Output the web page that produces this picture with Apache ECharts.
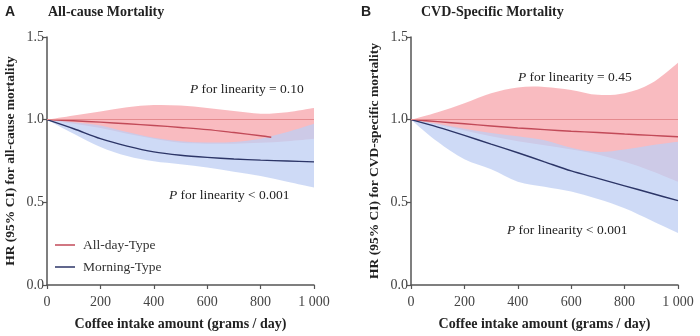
<!DOCTYPE html>
<html>
<head>
<meta charset="utf-8">
<script src="https://cdn.jsdelivr.net/npm/echarts@6/dist/echarts.min.js"></script>
<style>
  html, body { margin: 0; padding: 0; background: #fff; }
  #chart { width: 700px; height: 336px; }
</style>
</head>
<body>
<div id="chart"></div>
<script>
// Coffee intake (grams/day) sample points
const intake = [0, 100, 200, 300, 400, 500, 600, 700, 800, 900, 1000];
const intakeAllDayA = [0, 100, 200, 300, 400, 500, 600, 700, 800, 840];

// Panel A: all-cause mortality
const allDayHrA    = [1.0, 0.993, 0.985, 0.975, 0.965, 0.953, 0.94, 0.922, 0.903, 0.894];
const allDayUpperA = [1.0, 1.025, 1.05, 1.075, 1.088, 1.085, 1.07, 1.052, 1.036, 1.045, 1.07];
const allDayLowerA = [1.0, 0.975, 0.95, 0.915, 0.885, 0.86, 0.855, 0.855, 0.86, 0.87, 0.885];
const morningHrA    = [1.0, 0.945, 0.885, 0.84, 0.805, 0.785, 0.772, 0.762, 0.755, 0.75, 0.745];
const morningUpperA = [1.0, 0.985, 0.965, 0.925, 0.89, 0.87, 0.862, 0.865, 0.885, 0.925, 0.975];
const morningLowerA = [1.0, 0.915, 0.835, 0.78, 0.748, 0.73, 0.71, 0.685, 0.66, 0.625, 0.59];

// Panel B: CVD-specific mortality
const allDayHrB    = [1.0, 0.988, 0.975, 0.962, 0.95, 0.94, 0.93, 0.922, 0.913, 0.905, 0.897];
const allDayUpperB = [1.0, 1.045, 1.10, 1.16, 1.195, 1.198, 1.18, 1.15, 1.16, 1.22, 1.345];
const allDayLowerB = [1.0, 0.97, 0.935, 0.90, 0.87, 0.845, 0.82, 0.79, 0.745, 0.69, 0.625];
const morningHrB    = [1.0, 0.955, 0.905, 0.852, 0.80, 0.745, 0.69, 0.645, 0.60, 0.555, 0.51];
const morningUpperB = [1.0, 0.975, 0.945, 0.92, 0.90, 0.875, 0.83, 0.805, 0.82, 0.845, 0.866];
const morningLowerB = [1.0, 0.866, 0.76, 0.70, 0.625, 0.595, 0.565, 0.52, 0.464, 0.39, 0.314];

// Axis ticks
const xTickLabels = ['0', '200', '400', '600', '800', '1 000'];
const yTickLabels = ['0.0', '0.5', '1.0', '1.5'];

const panelTitles = ['All-cause Mortality', 'CVD-Specific Mortality'];
const panelLetters = ['A', 'B'];
const yAxisNames = ['HR (95% CI) for all-cause mortality', 'HR (95% CI) for CVD-specific mortality'];
const xAxisName = 'Coffee intake amount (grams / day)';
const seriesNames = ['All-day-Type', 'Morning-Type'];

const SERIF = 'Liberation Serif, Times New Roman, serif';
const SANS = 'Liberation Sans, Arial, sans-serif';
const RED_LINE = '#c24a58';
const BLUE_LINE = '#2c3567';
const RED_FILL = 'rgba(244,125,135,0.52)';
const BLUE_FILL = 'rgba(190,207,243,0.76)';

const pairs = (xs, ys) => ys.map((y, i) => [xs[i], y]);

// Catmull-Rom spline through pixel points, as SVG path commands (no leading M)
function splineSegs(pts) {
  let d = '';
  for (let i = 0; i < pts.length - 1; i++) {
    const p0 = pts[Math.max(i - 1, 0)], p1 = pts[i], p2 = pts[i + 1], p3 = pts[Math.min(i + 2, pts.length - 1)];
    const t = 1 / 6;
    const c1 = [p1[0] + (p2[0] - p0[0]) * t, p1[1] + (p2[1] - p0[1]) * t];
    const c2 = [p2[0] - (p3[0] - p1[0]) * t, p2[1] - (p3[1] - p1[1]) * t];
    d += ' C' + c1[0] + ',' + c1[1] + ' ' + c2[0] + ',' + c2[1] + ' ' + p2[0] + ',' + p2[1];
  }
  return d;
}

// confidence band as a custom series: upper edge forward, lower edge back
function band(idx, xs, lower, upper, fill) {
  return {
    type: 'custom', xAxisIndex: idx, yAxisIndex: idx, silent: true, z: 1,
    data: xs.map((x, i) => [x, lower[i], upper[i]]),
    encode: { x: 0, y: [1, 2] },
    renderItem: function (params, api) {
      if (params.dataIndex !== 0) return null;
      const up = xs.map((x, i) => api.coord([x, upper[i]]));
      const lo = xs.map((x, i) => api.coord([x, lower[i]])).reverse();
      const d = 'M' + up[0][0] + ',' + up[0][1] + splineSegs(up) +
        ' L' + lo[0][0] + ',' + lo[0][1] + splineSegs(lo) + ' Z';
      return { type: 'path', shape: { pathData: d }, style: { fill, stroke: null } };
    }
  };
}

function hrLine(name, idx, xs, ys, color, withRef) {
  const s = {
    type: 'line', name, xAxisIndex: idx, yAxisIndex: idx,
    data: pairs(xs, ys), smooth: 0.3, symbol: 'none',
    lineStyle: { color, width: 1.4 }, itemStyle: { color }, z: 4
  };
  if (withRef) {
    s.markLine = {
      silent: true, symbol: 'none', label: { show: false },
      lineStyle: { color: '#e58a8e', width: 1, type: 'solid' },
      data: [{ yAxis: 1 }]
    };
  }
  return s;
}

const grids = [
  { left: 47, right: 386, top: 37, bottom: 49 },
  { left: 411, right: 22, top: 37, bottom: 49 }
];

const xAxes = grids.map((g, i) => ({
  type: 'value', gridIndex: i, min: 0, max: 1000, interval: 200,
  name: xAxisName, nameLocation: 'middle', nameGap: 32,
  nameTextStyle: { fontFamily: SERIF, fontWeight: 'bold', fontSize: 14, color: '#222' },
  axisLine: { show: true, lineStyle: { color: '#555', width: 1.5 } },
  axisTick: { show: true, length: 4, lineStyle: { color: '#555', width: 1.2 } },
  axisLabel: {
    fontFamily: SERIF, fontSize: 14, color: '#444', margin: 10,
    formatter: v => xTickLabels[Math.round(v / 200)]
  },
  splitLine: { show: false }
}));

const yAxes = grids.map((g, i) => ({
  type: 'value', gridIndex: i, min: 0, max: 1.5, interval: 0.5,
  name: yAxisNames[i], nameLocation: 'middle', nameGap: 29, nameRotate: 90,
  nameTextStyle: { fontFamily: SERIF, fontWeight: 'bold', fontSize: 13.5, color: '#222' },
  axisLine: { show: true, lineStyle: { color: '#555', width: 1.5 } },
  axisTick: { show: true, length: 4, lineStyle: { color: '#555', width: 1.2 } },
  axisLabel: {
    fontFamily: SERIF, fontSize: 14, color: '#444', margin: 3,
    formatter: v => yTickLabels[Math.round(v / 0.5)]
  },
  splitLine: { show: false }
}));

const series = [
  band(0, intake, allDayLowerA, allDayUpperA, RED_FILL),
  band(0, intake, morningLowerA, morningUpperA, BLUE_FILL),
  hrLine(seriesNames[0], 0, intakeAllDayA, allDayHrA, RED_LINE, true),
  hrLine(seriesNames[1], 0, intake, morningHrA, BLUE_LINE, false),
  band(1, intake, allDayLowerB, allDayUpperB, RED_FILL),
  band(1, intake, morningLowerB, morningUpperB, BLUE_FILL),
  hrLine(seriesNames[0], 1, intake, allDayHrB, RED_LINE, true),
  hrLine(seriesNames[1], 1, intake, morningHrB, BLUE_LINE, false)
];

function note(left, top, rest) {
  return {
    type: 'text', left, top, z: 10,
    style: {
      text: '{p|P}' + rest,
      font: '13.5px ' + SERIF, fill: '#222',
      rich: { p: { fontStyle: 'italic', fontFamily: SERIF, fontSize: 13.5, fill: '#222' } }
    }
  };
}

const titleBase = { padding: 0, top: 5 };
const option = {
  animation: false,
  backgroundColor: '#fff',
  title: [
    { ...titleBase, text: panelLetters[0], left: 5, textStyle: { fontFamily: SANS, fontWeight: 'bold', fontSize: 14, color: '#222' } },
    { ...titleBase, text: panelTitles[0], left: 48, textStyle: { fontFamily: SERIF, fontWeight: 'bold', fontSize: 14, color: '#222' } },
    { ...titleBase, text: panelLetters[1], left: 361, textStyle: { fontFamily: SANS, fontWeight: 'bold', fontSize: 14, color: '#222' } },
    { ...titleBase, text: panelTitles[1], left: 421, textStyle: { fontFamily: SERIF, fontWeight: 'bold', fontSize: 14, color: '#222' } }
  ],
  legend: {
    data: seriesNames, orient: 'vertical', left: 55, top: 238, itemGap: 8, padding: 0,
    icon: 'rect', itemWidth: 20, itemHeight: 1.5,
    textStyle: { fontFamily: SERIF, fontSize: 13.5, color: '#333', padding: [0, 0, 0, 3] }
  },
  grid: grids,
  xAxis: xAxes,
  yAxis: yAxes,
  series,
  graphic: [
    note(190, 82, ' for linearity = 0.10'),
    note(169, 188, ' for linearity < 0.001'),
    note(518, 70, ' for linearity = 0.45'),
    note(507, 223, ' for linearity < 0.001')
  ]
};

const chart = echarts.init(document.getElementById('chart'), null, { renderer: 'canvas' });
chart.setOption(option);
</script>
</body>
</html>
